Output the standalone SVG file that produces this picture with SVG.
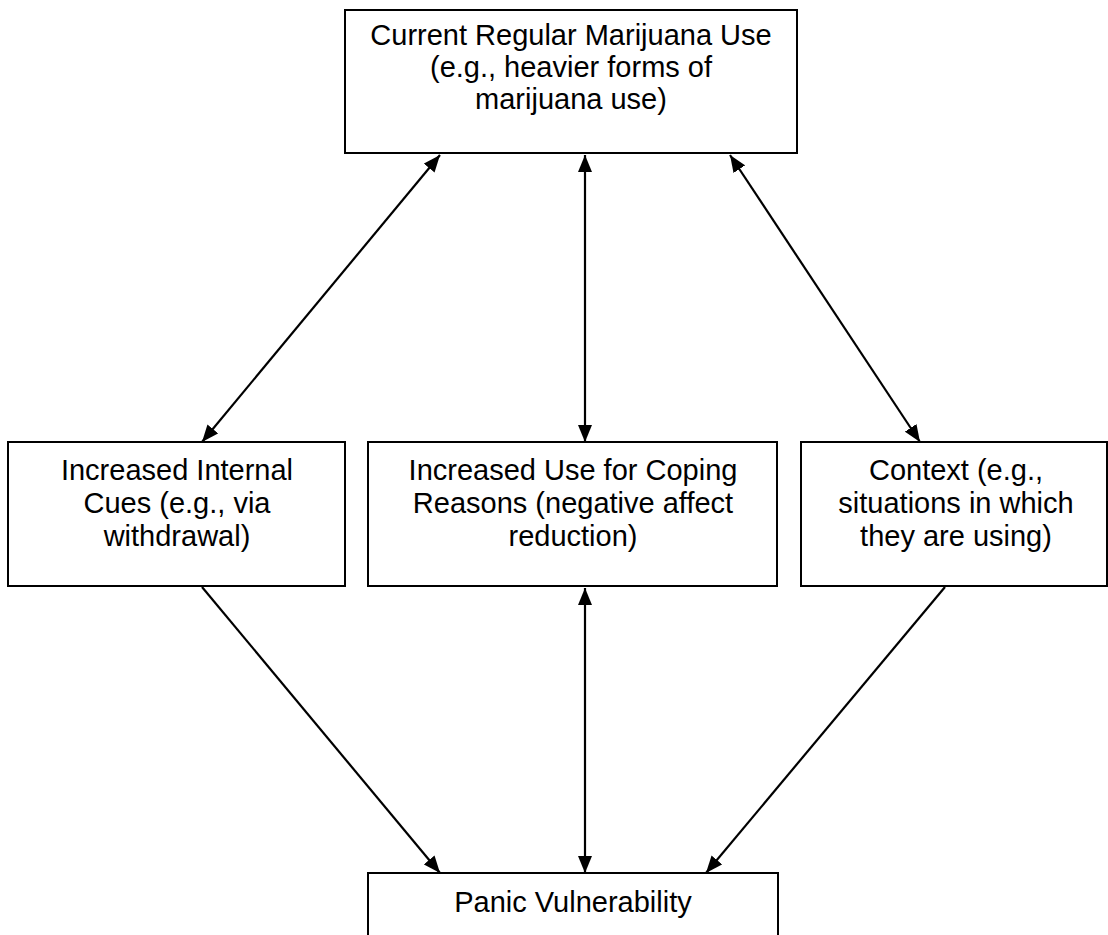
<svg xmlns="http://www.w3.org/2000/svg" width="1108" height="935" viewBox="0 0 1108 935">
<defs>
<style>
.box{fill:#fff;stroke:#000;stroke-width:2}
.t{font-family:"Liberation Sans",Arial,sans-serif;font-size:29px;fill:#000;text-anchor:middle}
.c{stroke:#000;stroke-width:2.2;fill:none}
</style>
<marker id="ah" viewBox="0 0 17 14" refX="17" refY="7" markerWidth="17" markerHeight="14" markerUnits="userSpaceOnUse" orient="auto-start-reverse">
<path d="M0,0 L17,7 L0,14 z" fill="#000"/>
</marker>
</defs>
<rect width="1108" height="935" fill="#fff"/>
<g id="connectors">
<line class="c" x1="440" y1="155" x2="202" y2="442" marker-start="url(#ah)" marker-end="url(#ah)"/>
<line class="c" x1="585" y1="155" x2="585" y2="442" marker-start="url(#ah)" marker-end="url(#ah)"/>
<line class="c" x1="730" y1="155" x2="920" y2="442" marker-start="url(#ah)" marker-end="url(#ah)"/>
<line class="c" x1="202" y1="587" x2="440" y2="873" marker-end="url(#ah)"/>
<line class="c" x1="585" y1="588" x2="585" y2="873" marker-start="url(#ah)" marker-end="url(#ah)"/>
<line class="c" x1="945" y1="587" x2="706" y2="873" marker-end="url(#ah)"/>
</g>
<g id="node-current">
<rect class="box" x="345" y="10" width="452" height="143"/>
<text class="t" x="571" y="45">Current Regular Marijuana Use</text>
<text class="t" x="571" y="77">(e.g., heavier forms of</text>
<text class="t" x="571" y="109">marijuana use)</text>
</g>
<g id="node-internal">
<rect class="box" x="8" y="442" width="337" height="144"/>
<text class="t" x="177" y="480">Increased Internal</text>
<text class="t" x="177" y="513">Cues (e.g., via</text>
<text class="t" x="177" y="546">withdrawal)</text>
</g>
<g id="node-coping">
<rect class="box" x="368" y="442" width="409" height="144"/>
<text class="t" x="573" y="480">Increased Use for Coping</text>
<text class="t" x="573" y="513">Reasons (negative affect</text>
<text class="t" x="573" y="546">reduction)</text>
</g>
<g id="node-context">
<rect class="box" x="801" y="442" width="306" height="144"/>
<text class="t" x="956" y="480">Context (e.g.,</text>
<text class="t" x="956" y="513">situations in which</text>
<text class="t" x="956" y="546">they are using)</text>
</g>
<g id="node-panic">
<rect class="box" x="368" y="873" width="410" height="90"/>
<text class="t" x="573" y="912">Panic Vulnerability</text>
</g>
</svg>
